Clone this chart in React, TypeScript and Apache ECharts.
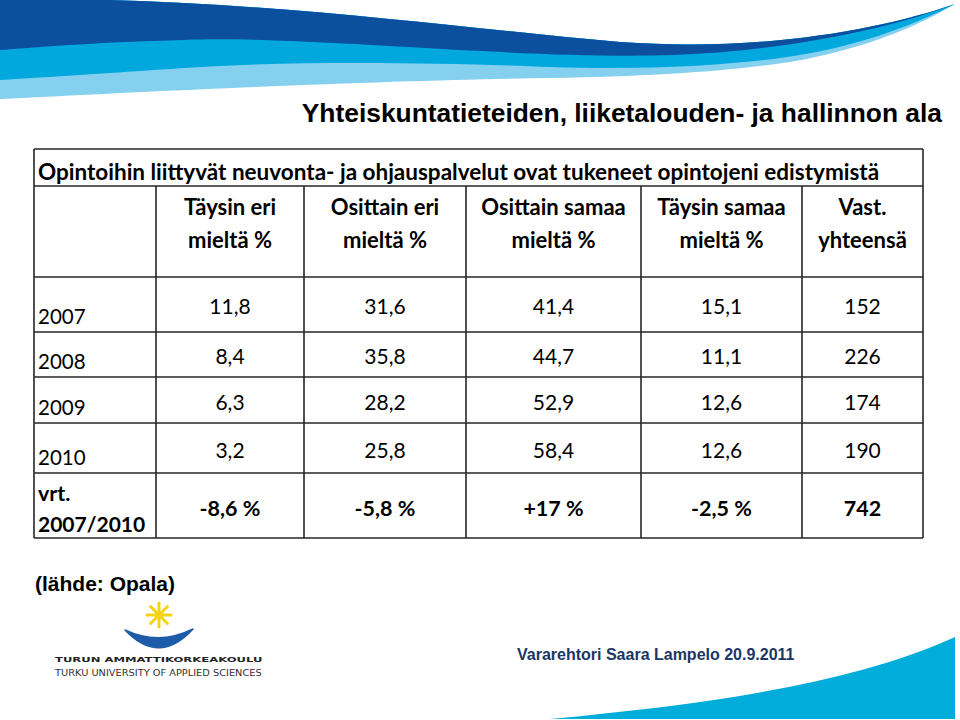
import React, { useEffect, useRef } from "react";
import * as echarts from "echarts";

// ---- Data ----
const slideTitle = "Yhteiskuntatieteiden, liiketalouden- ja hallinnon ala";
const tableTitle = "Opintoihin liittyvät neuvonta- ja ohjauspalvelut ovat tukeneet opintojeni edistymistä";
const headerLine1 = ["Täysin eri", "Osittain eri", "Osittain samaa", "Täysin samaa", "Vast."];
const headerLine2 = ["mieltä %", "mieltä %", "mieltä %", "mieltä %", "yhteensä"];
const years = ["2007", "2008", "2009", "2010"];
const taysinEri = [11.8, 8.4, 6.3, 3.2];
const osittainEri = [31.6, 35.8, 28.2, 25.8];
const osittainSamaa = [41.4, 44.7, 52.9, 58.4];
const taysinSamaa = [15.1, 11.1, 12.6, 12.6];
const vastaajat = [152, 226, 174, 190];
const compareLabel = ["vrt.", "2007/2010"];
const compareValues = ["-8,6 %", "-5,8 %", "+17 %", "-2,5 %", "742"];
const sourceText = "(lähde: Opala)";
const footerText = "Vararehtori Saara Lampelo 20.9.2011";
const logoLine1 = "TURUN AMMATTIKORKEAKOULU";
const logoLine2 = "TURKU UNIVERSITY OF APPLIED SCIENCES";

// ---- Shapes ----
const TOP_EDGE = "M0,0 L110,0 C300,5 480,30 620,42 C760,52 880,30 955,4 ";
const waveLight = TOP_EDGE + "C915,28 860,50 790,62 C720,72 650,76 551,78 C420,80 250,86 0,99 Z";
const waveCyan = TOP_EDGE + "C912,26 855,48 780,58 C720,66 640,70 551,67 C450,63 300,60 184,68 C110,73 50,77 0,80 Z";
const waveDark = TOP_EDGE + "C900,25 800,50 674,55 C520,60 300,35 184,40 C100,42 40,47 0,50 Z";
const waveBottom = "M550,719 C700,705 850,685 955,637 L955,719 Z";
const smile = "M125,630 Q159,666 193,629 Q159,646 125,630 Z";

let registered = false;
function registerShapes() {
  if (registered) return;
  registered = true;
  echarts.graphic.registerShape("waveLight", echarts.graphic.extendPath(waveLight, {}));
  echarts.graphic.registerShape("waveCyan", echarts.graphic.extendPath(waveCyan, {}));
  echarts.graphic.registerShape("waveDark", echarts.graphic.extendPath(waveDark, {}));
  echarts.graphic.registerShape("waveBottom", echarts.graphic.extendPath(waveBottom, {}));
  echarts.graphic.registerShape("smile", echarts.graphic.extendPath(smile, {}));
}

const fmt = (v: number) => v.toFixed(1).replace(".", ",");

export default function App() {
  const ref = useRef<HTMLDivElement>(null);
  useEffect(() => {
    registerShapes();
    const chart = echarts.init(ref.current!, null, { renderer: "svg" });

    const TF = "Lato, 'Open Sans', sans-serif";
    const AF = "'Liberation Sans', Arial, sans-serif";
    const DF = "'DejaVu Sans', sans-serif";
    const lineColor = "#262626";
    const xs = [34, 156, 304, 466, 641, 802, 923];
    const yTop = 149, yTitle = 186;
    const rowYs = [277, 332, 377, 423, 473, 538];
    const els: any[] = [];

    // waves
    els.push({ type: "waveLight", x: 0, y: 0, style: { fill: "#86d0ef" } });
    els.push({ type: "waveCyan", x: 0, y: 0, style: { fill: "#00a8de" } });
    els.push({ type: "waveDark", x: 0, y: 0, style: { fill: "#0c4f9f" } });
    els.push({ type: "waveBottom", x: 0, y: 0, style: { fill: "#00acd9" } });

    // slide title
    els.push({
      type: "text", x: 942, y: 113, scaleX: 1.055, originX: 0, originY: 0,
      style: { text: slideTitle, fontFamily: AF, fontWeight: "bold", fontSize: 25, fill: "#000", align: "right", verticalAlign: "middle" },
    });

    // table lines
    const hl = (y: number, x1: number, x2: number) =>
      els.push({ type: "line", shape: { x1, y1: y, x2, y2: y }, style: { stroke: lineColor, lineWidth: 1.6 } });
    const vl = (x: number, y1: number, y2: number) =>
      els.push({ type: "line", shape: { x1: x, y1, x2: x, y2 }, style: { stroke: lineColor, lineWidth: 1.6 } });
    hl(yTop, xs[0], xs[6]);
    hl(yTitle, xs[0], xs[6]);
    rowYs.forEach((y) => hl(y, xs[0], xs[6]));
    vl(xs[0], yTop, rowYs[5]);
    vl(xs[6], yTop, rowYs[5]);
    for (let i = 1; i < 6; i++) vl(xs[i], yTitle, rowYs[5]);

    // table title
    els.push({
      type: "text", x: 38, y: 171,
      style: { text: tableTitle, fontFamily: TF, fontWeight: "bold", fontSize: 22.5, fill: "#000", align: "left", verticalAlign: "middle" },
    });

    const cx = (i: number) => (xs[i + 1] + xs[i + 2]) / 2;
    // headers
    for (let i = 0; i < 5; i++) {
      els.push({ type: "text", x: cx(i), y: 206, style: { text: headerLine1[i], fontFamily: TF, fontWeight: "bold", fontSize: 22, fill: "#000", align: "center", verticalAlign: "middle" } });
      els.push({ type: "text", x: cx(i), y: 239, style: { text: headerLine2[i], fontFamily: TF, fontWeight: "bold", fontSize: 22, fill: "#000", align: "center", verticalAlign: "middle" } });
    }

    // data rows
    const cols = [taysinEri.map(fmt), osittainEri.map(fmt), osittainSamaa.map(fmt), taysinSamaa.map(fmt), vastaajat.map(String)];
    years.forEach((yr, r) => {
      const top = rowYs[r], bot = rowYs[r + 1];
      els.push({ type: "text", x: 38, y: bot - 16, style: { text: yr, fontFamily: TF, fontSize: 20.5, fill: "#000", align: "left", verticalAlign: "middle" } });
      const vy = (top + bot) / 2 + 1;
      cols.forEach((c, i) => {
        els.push({ type: "text", x: cx(i), y: vy, style: { text: c[r], fontFamily: TF, fontSize: 21, fill: "#000", align: "center", verticalAlign: "middle" } });
      });
    });
    // comparison row
    els.push({ type: "text", x: 38, y: 493, style: { text: compareLabel[0], fontFamily: TF, fontWeight: "bold", fontSize: 21.5, fill: "#000", align: "left", verticalAlign: "middle" } });
    els.push({ type: "text", x: 38, y: 523, style: { text: compareLabel[1], fontFamily: TF, fontWeight: "bold", fontSize: 21, fill: "#000", align: "left", verticalAlign: "middle" } });
    compareValues.forEach((v, i) => {
      els.push({ type: "text", x: cx(i), y: 508, style: { text: v, fontFamily: TF, fontWeight: "bold", fontSize: 21.5, fill: "#000", align: "center", verticalAlign: "middle" } });
    });

    // source
    els.push({ type: "text", x: 35, y: 583, style: { text: sourceText, fontFamily: AF, fontWeight: "bold", fontSize: 21, fill: "#000", align: "left", verticalAlign: "middle" } });

    // logo: asterisk
    const acx = 159, acy = 615, ar = 12;
    for (let k = 0; k < 4; k++) {
      const a = (k * Math.PI) / 4;
      els.push({
        type: "line",
        shape: { x1: acx - ar * Math.cos(a), y1: acy - ar * Math.sin(a), x2: acx + ar * Math.cos(a), y2: acy + ar * Math.sin(a) },
        style: { stroke: "#f3d312", lineWidth: 3, lineCap: "round" },
      });
    }
    els.push({ type: "smile", x: 0, y: 0, style: { fill: "#1d5ca8", stroke: "#1d5ca8", lineWidth: 1.5, lineJoin: "round" } });
    els.push({ type: "text", x: 55, y: 659, scaleX: 1.55, originX: 0, originY: 0, style: { text: logoLine1, fontFamily: DF, fontWeight: "bold", fontSize: 7.5, fill: "#222", align: "left", verticalAlign: "middle" } });
    els.push({ type: "text", x: 55, y: 673, scaleX: 1.09, originX: 0, originY: 0, style: { text: logoLine2, fontFamily: DF, fontSize: 9, fill: "#333", align: "left", verticalAlign: "middle" } });

    // footer
    els.push({ type: "text", x: 517, y: 654, style: { text: footerText, fontFamily: AF, fontWeight: "bold", fontSize: 16, fill: "#1b3768", align: "left", verticalAlign: "middle" } });

    chart.setOption({
      animation: false,
      backgroundColor: "#ffffff",
      graphic: { elements: els },
    });
    return () => chart.dispose();
  }, []);

  return <div ref={ref} style={{ position: "absolute", left: 0, top: 0, width: 960, height: 720 }} />;
}
